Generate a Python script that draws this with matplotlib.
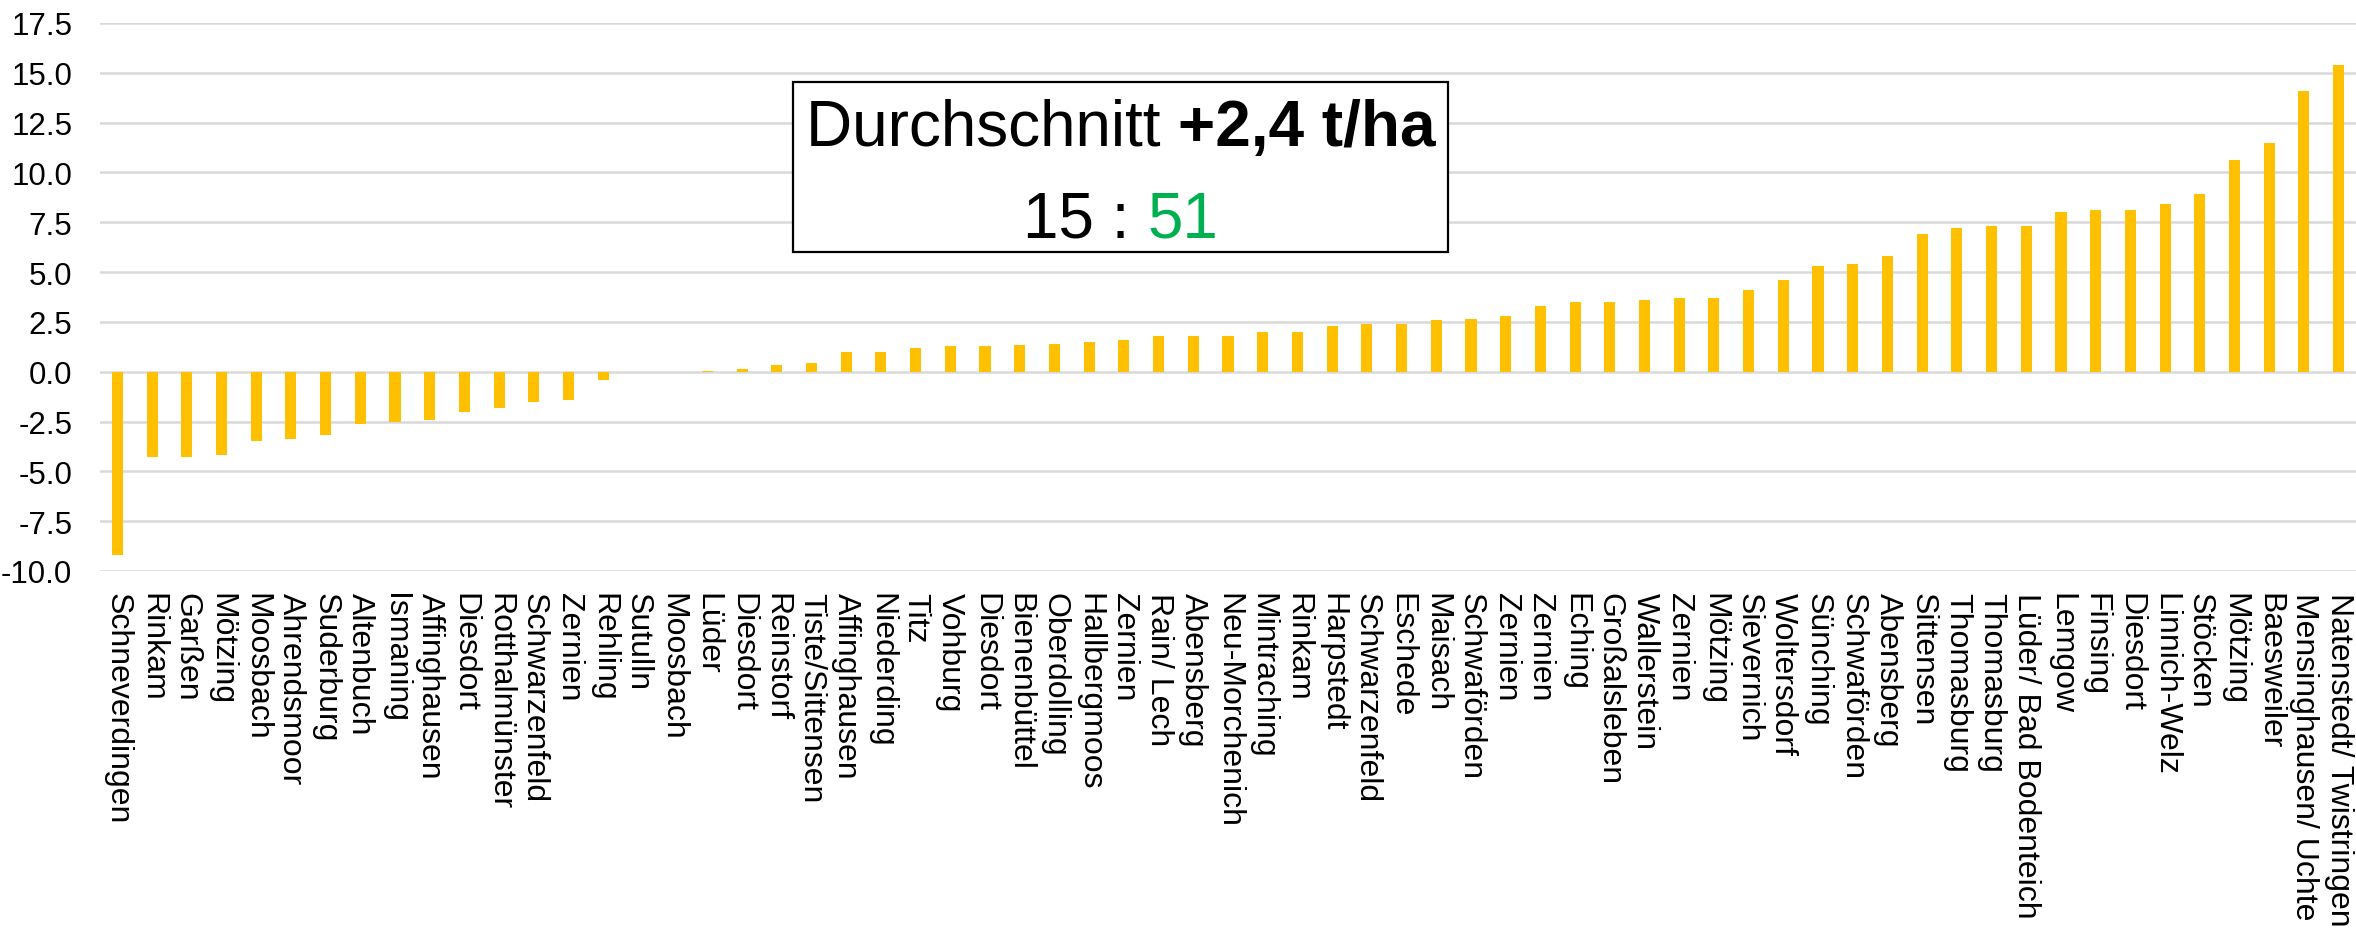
import matplotlib
matplotlib.use("Agg")
import matplotlib.pyplot as plt
from matplotlib.patches import Rectangle

categories = ["Schneverdingen", "Rinkam", "Garßen", "Mötzing", "Moosbach", "Ahrendsmoor",
              "Suderburg", "Altenbuch", "Ismaning", "Affinghausen", "Diesdort", "Rotthalmünster",
              "Schwarzenfeld", "Zernien", "Rehling", "Sutulln", "Moosbach", "Lüder", "Diesdort",
              "Reinstorf", "Tiste/Sittensen", "Affinghausen", "Niederding", "Titz", "Vohburg",
              "Diesdort", "Bienenbüttel", "Oberdolling", "Hallbergmoos", "Zernien", "Rain/ Lech",
              "Abensberg", "Neu-Morchenich", "Mintraching", "Rinkam", "Harpstedt", "Schwarzenfeld",
              "Eschede", "Maisach", "Schwaförden", "Zernien", "Zernien", "Eching", "Großalsleben",
              "Wallerstein", "Zernien", "Mötzing", "Sievernich", "Woltersdorf", "Sünching",
              "Schwaförden", "Abensberg", "Sittensen", "Thomasburg", "Thomasburg",
              "Lüder/ Bad Bodenteich", "Lemgow", "Finsing", "Diesdort", "Linnich-Welz", "Stöcken",
              "Mötzing", "Baesweiler", "Mensinghausen/ Uchte", "Natenstedt/ Twistringen"]

values = [-9.2, -4.3, -4.3, -4.2, -3.5, -3.4, -3.2, -2.6, -2.5, -2.4, -2.0, -1.8, -1.5, -1.4, -0.4,
          0.0, 0.0, 0.03, 0.15, 0.35, 0.45, 0.98, 0.98, 1.2, 1.28, 1.3, 1.32, 1.38, 1.48, 1.57,
          1.78, 1.8, 1.8, 2.0, 2.0, 2.3, 2.4, 2.42, 2.6, 2.65, 2.8, 3.3, 3.5, 3.5, 3.6, 3.7,
          3.7, 4.1, 4.6, 5.3, 5.4, 5.8, 6.9, 7.2, 7.3, 7.3, 8.0, 8.1, 8.1, 8.4, 8.9,
          10.6, 11.5, 14.1, 15.4]

yticks = [-10.0, -7.5, -5.0, -2.5, 0.0, 2.5, 5.0, 7.5, 10.0, 12.5, 15.0, 17.5]

box_line1_normal = "Durchschnitt "
box_line1_bold = "+2,4 t/ha"
box_line2_black = "15 : "
box_line2_green = "51"

plt.rcParams['font.family'] = ['Liberation Sans', 'DejaVu Sans']
plt.rcParams['axes.unicode_minus'] = False

W, H = 2356, 929
fig = plt.figure(figsize=(W / 100, H / 100), dpi=100)
ax = fig.add_axes([100 / W, (H - 572) / H, (W - 100) / W, (572 - 24) / H])

x = list(range(len(categories)))
ax.bar(x, values, width=0.32, color="#FFC000", zorder=3)

ax.set_xlim(-0.5, len(categories) - 0.5)
ax.set_ylim(-10, 17.5)
ax.set_yticks(yticks)
ax.set_yticklabels([f"{v:.1f}" for v in yticks], fontsize=22.5)
ax.set_xticks(x)
ax.set_xticklabels(categories, rotation=270, fontsize=23, ha='center', va='top')
ax.tick_params(axis='x', length=0, pad=15)
ax.tick_params(axis='y', length=0, pad=20)
ax.grid(axis='y', color="#D9D9D9", linewidth=1.8, zorder=0)
ax.set_axisbelow(True)
for s in ax.spines.values():
    s.set_visible(False)

# Annotation box
bx0, bx1 = 793 / W, 1448 / W
by0, by1 = (H - 253) / H, (H - 83) / H
rect = Rectangle((bx0, by0), bx1 - bx0, by1 - by0, transform=fig.transFigure,
                 facecolor="white", edgecolor="black", linewidth=1.6, zorder=10)
fig.patches.append(rect)

fig.canvas.draw()
renderer = fig.canvas.get_renderer()
cx = (bx0 + bx1) / 2


def two_part(text_a, text_b, y, kw_a, kw_b):
    ta = fig.text(0, y, text_a, va='baseline', ha='left', zorder=11, **kw_a)
    tb = fig.text(0, y, text_b, va='baseline', ha='left', zorder=11, **kw_b)
    wa = ta.get_window_extent(renderer).width / W
    wb = tb.get_window_extent(renderer).width / W
    start = cx - (wa + wb) / 2
    ta.set_x(start)
    tb.set_x(start + wa)


two_part(box_line1_normal, box_line1_bold, (H - 146) / H,
         dict(fontsize=46, color="black"), dict(fontsize=46, color="black", fontweight='bold'))
two_part(box_line2_black, box_line2_green, (H - 238) / H,
         dict(fontsize=46, color="black"), dict(fontsize=46, color="#00B050"))

fig.savefig("out.png", dpi=100)
